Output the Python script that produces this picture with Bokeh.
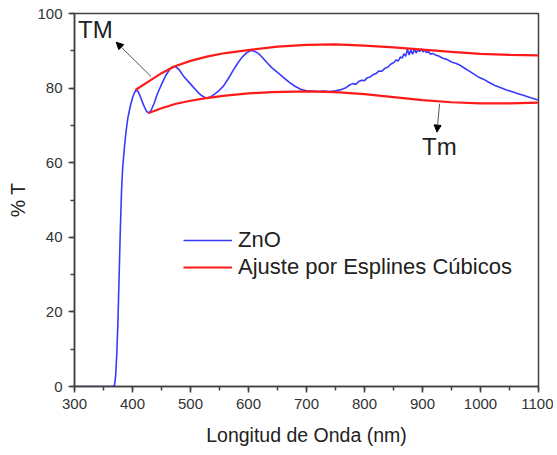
from bokeh.plotting import figure
from bokeh.models import (Range1d, SingleIntervalTicker, Legend, LegendItem,
                          Arrow, NormalHead, Label)
from bokeh.embed import file_html
from bokeh.resources import INLINE

# ---- data ----
zno_x = [300, 340, 365, 369, 371, 373, 375, 377, 379, 381, 383, 386, 389, 392, 396,
         400, 404, 407, 410, 414, 419, 424, 428, 432, 437, 443, 450, 457, 464, 470,
         475, 481, 488, 496, 504, 512, 519, 527, 534, 541, 549, 557, 565, 573, 581,
         589, 597, 604, 610, 617, 624, 632, 640, 650, 660, 670, 680, 690, 700, 710,
         720, 730, 740, 750, 760, 768, 775, 780, 785, 790, 795, 800, 805, 810, 815,
         820, 825, 830, 835, 840, 845, 850, 855, 858, 862, 865, 868, 871, 874, 877,
         880, 883, 886, 889, 892, 895, 898, 901, 904, 907, 910, 914, 918, 922, 928,
         935, 942, 950, 958, 965, 972, 980, 988, 996, 1005, 1015, 1025, 1035, 1045,
         1055, 1065, 1075, 1085, 1095, 1100]
zno_y = [0, 0, 0, 0.3, 3, 9, 18, 30, 42, 52, 58.5, 64, 68.5, 72, 75,
         77.4, 79, 79.5, 79, 77.5, 75.5, 73.8, 73.3, 74, 75.8, 78.5, 81, 83.3, 85, 85.8,
         85.7, 84.8, 83.2, 81.8, 80.4, 79, 78, 77.3, 77.6, 78.3, 79.3, 80.6, 82.5, 84.6, 86.6,
         88.3, 89.5, 90.1, 89.9, 89.3, 88.2, 86.8, 85.5, 84.2, 82.9, 81.6, 80.5, 79.7, 79.3, 79.2,
         79.1, 79.2, 79.1, 79.3, 79.6, 80.1, 80.9, 81.2, 81.0, 81.8, 82.1, 82.0, 82.8, 83.0, 83.6,
         83.9, 84.6, 84.5, 85.3, 85.6, 86.4, 86.8, 87.6, 87.2, 88.4, 88.0, 89.2, 88.5, 90.4, 88.9,
         90.2, 89.1, 90.5, 89.4, 90.3, 89.8, 90.5, 89.7, 90.2, 89.5, 89.8, 89.1, 89.3, 88.9, 88.6,
         88.0, 87.7, 87.0, 86.6, 86.1, 85.4, 84.6, 83.8, 83.0, 82.4, 81.5, 80.7, 80.1, 79.5,
         79.0, 78.5, 78.0, 77.5, 77.0, 76.8]

tm_upper_x = [405, 430, 450, 472, 500, 530, 560, 606, 650, 700, 750, 800, 850, 900,
              950, 1000, 1050, 1100]
tm_upper_y = [79.5, 82.0, 84.0, 85.8, 87.3, 88.5, 89.4, 90.3, 91.1, 91.6, 91.7, 91.4,
              90.9, 90.3, 89.7, 89.2, 88.9, 88.8]

tm_lower_x = [428, 450, 475, 500, 527, 560, 600, 640, 700, 750, 800, 850, 900, 950,
              1000, 1050, 1100]
tm_lower_y = [73.3, 74.6, 75.8, 76.6, 77.3, 78.0, 78.6, 78.9, 79.1, 78.9, 78.4, 77.6,
              76.8, 76.2, 75.9, 75.9, 76.1]

legend_labels = ["ZnO", "Ajuste por Esplines Cúbicos"]
x_title = "Longitud de Onda (nm)"
y_title = "% T"

# annotations: [text, x, y], arrow [x_start, y_start, x_end, y_end]
tm_label = ["TM", 336, 95.8]
tm_arrow = [432, 83.1, 372, 92.3]
tmin_label = ["Tm", 929, 64.4]
tmin_arrow = [929.4, 75.8, 925, 68.2]

FONT = "Liberation Sans"
AX = "#404040"

p = figure(width=553, height=450, output_backend="svg", toolbar_location=None,
           x_range=Range1d(300, 1100), y_range=Range1d(0, 100),
           min_border_left=74, min_border_right=15, min_border_top=13,
           min_border_bottom=64)
p.grid.visible = False
p.outline_line_color = AX
p.outline_line_width = 1.5
p.background_fill_color = "white"
p.border_fill_color = "white"

p.xaxis.ticker = SingleIntervalTicker(interval=100, num_minor_ticks=2)
p.yaxis.ticker = SingleIntervalTicker(interval=20, num_minor_ticks=2)
for ax in (p.xaxis[0], p.yaxis[0]):
    ax.axis_line_color = AX
    ax.axis_line_width = 1.5
    ax.major_tick_line_color = AX
    ax.minor_tick_line_color = AX
    ax.major_tick_line_width = 1.5
    ax.minor_tick_line_width = 1.5
    ax.major_tick_out = 6
    ax.major_tick_in = 0
    ax.minor_tick_out = 4
    ax.minor_tick_in = 0
    ax.major_label_text_font = FONT
    ax.major_label_text_font_size = "15px"
    ax.major_label_text_color = "#333333"
    ax.major_label_standoff = 6
    ax.axis_label_text_font = FONT
    ax.axis_label_text_font_size = "19.5px"
    ax.axis_label_text_font_style = "normal"
    ax.axis_label_text_color = "#222222"
p.xaxis.axis_label = x_title
p.yaxis.axis_label = y_title
p.yaxis.axis_label_standoff = 5
p.xaxis.axis_label_standoff = 12

r_blue = p.line(zno_x, zno_y, line_color="#3a3aff", line_width=1.6)
r_red = p.line(tm_upper_x, tm_upper_y, line_color="#ff1a1a", line_width=2.2)
p.line(tm_lower_x, tm_lower_y, line_color="#ff1a1a", line_width=2.2)

legend = Legend(items=[LegendItem(label=legend_labels[0], renderers=[r_blue]),
                       LegendItem(label=legend_labels[1], renderers=[r_red])],
                location=(109, 106), padding=0, margin=0, spacing=1,
                glyph_width=49, glyph_height=20, label_height=20,
                label_standoff=6, label_text_font=FONT,
                label_text_font_size="22px", label_text_color="#222222",
                border_line_color=None, background_fill_alpha=0)
p.add_layout(legend)

for lab, arr in ((tm_label, tm_arrow), (tmin_label, tmin_arrow)):
    p.add_layout(Arrow(end=NormalHead(size=7, fill_color="black", line_color="black"),
                       x_start=arr[0], y_start=arr[1], x_end=arr[2], y_end=arr[3],
                       line_color="#555555", line_width=1))
    p.add_layout(Label(x=lab[1], y=lab[2], text=lab[0], text_align="center",
                       text_baseline="alphabetic", text_font=FONT,
                       text_font_size="24px", text_color="#222222"))

open("out.html", "w").write(file_html(p, INLINE))
